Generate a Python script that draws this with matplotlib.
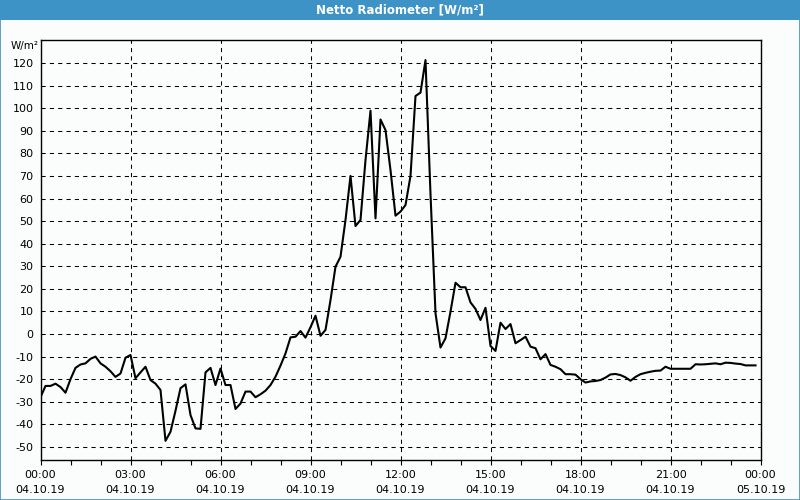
import numpy as np
import matplotlib
matplotlib.use("Agg")
import matplotlib.pyplot as plt
from matplotlib.patches import Rectangle

# ---- data (10-minute samples starting 04.10.19 00:00) ----
values = [
    -28, -23, -23, -22, -23.5, -26, -20, -15, -13.5, -13, -11, -10,
    -13, -14.5, -16.5, -19, -17.5, -10.5, -9.3, -19.6, -17, -14.5, -20.4, -22,
    -24.8, -47.3, -43.3, -34, -24, -22.3, -35.9, -41.8, -42, -17, -15, -22.6,
    -15.3, -22.6, -22.6, -33.2, -30.8, -25.5, -25.5, -28, -26.7, -25.1, -22.6, -18.9,
    -14, -8.6, -1.5, -1.2, 1.3, -1.6, 3, 8.1, -0.8, 1.8, 15, 29.8,
    34.2, 50.5, 70, 47.8, 50.5, 77, 98.9, 51.2, 95, 90.3, 72.6, 52.4,
    54.2, 57.1, 70, 105.4, 106.9, 121.3, 62, 9.2, -6, -1.9, 9.9, 22.7,
    20.7, 20.7, 14, 11.1, 6.2, 11.6, -5.3, -7.5, 5, 2.2, 4.4, -4.1,
    -2.7, -1.2, -5.6, -6.3, -11.2, -8.9, -13.7, -14.5, -15.6, -17.8, -17.8, -18,
    -20, -21.5, -21, -20.8, -20.4, -19.3, -17.9, -17.7, -18.2, -19.2, -20.7, -19,
    -17.8, -17.2, -16.7, -16.3, -16.2, -14.5, -15.4, -15.4, -15.4, -15.4, -15.4, -13.4,
    -13.5, -13.4, -13.2, -13, -13.4, -12.7, -12.8, -13.1, -13.3, -13.9, -13.9, -13.9,
]
sample_minutes = 10
hours = np.arange(len(values)) * sample_minutes / 60.0

x_tick_hours = [0, 3, 6, 9, 12, 15, 18, 21, 24]
x_tick_labels = ["00:00\n04.10.19", "03:00\n04.10.19", "06:00\n04.10.19",
                 "09:00\n04.10.19", "12:00\n04.10.19", "15:00\n04.10.19",
                 "18:00\n04.10.19", "21:00\n04.10.19", "00:00\n05.10.19"]
y_ticks = list(range(-50, 121, 10))

title = "Netto Radiometer [W/m²]"
unit = "W/m²"

# ---- figure ----
bg = "#fbfdfd"
blue = "#3d93c6"
fig = plt.figure(figsize=(8, 5), dpi=100, facecolor=bg)

# title bar
fig.patches.append(Rectangle((0, 1 - 20 / 500), 1, 20 / 500, transform=fig.transFigure,
                             facecolor=blue, edgecolor="none", zorder=0))
# outer border
fig.patches.append(Rectangle((0.0006, 0.001), 0.9988, 0.998, transform=fig.transFigure,
                             facecolor="none", edgecolor=blue, linewidth=1.2, zorder=5))
fig.text(0.5, 1 - 10 / 500, title, color="white", fontsize=8.5, fontweight="bold",
         ha="center", va="center", family="DejaVu Sans")

ax = fig.add_axes([40.5 / 800, 1 - 460 / 500, 720 / 800, 420 / 500])
ax.set_facecolor(bg)
ax.plot(hours, values, color="black", linewidth=1.5, zorder=3)

ax.set_xlim(0, 24)
ax.set_ylim(-55.8, 130.2)
ax.set_xticks(x_tick_hours)
ax.set_xticklabels(x_tick_labels, fontsize=8, linespacing=1.6)
ax.set_xticks(np.arange(0, 25, 1), minor=True)
ax.set_yticks(y_ticks)
ax.set_yticklabels([str(v) for v in y_ticks], fontsize=8)

ax.tick_params(axis="x", which="both", direction="out", length=3.5, width=0.8, pad=4, colors="black")
ax.tick_params(axis="y", which="both", length=0, pad=5)

ax.grid(True, which="major", color="black", linestyle=(0, (4, 4)), linewidth=0.75)
for s in ax.spines.values():
    s.set_color("black")
    s.set_linewidth(1.0)

fig.text(25 / 800, 1 - 46 / 500, unit, fontsize=7.5, ha="center", va="center")

fig.savefig("out.png", dpi=100, facecolor=bg)
